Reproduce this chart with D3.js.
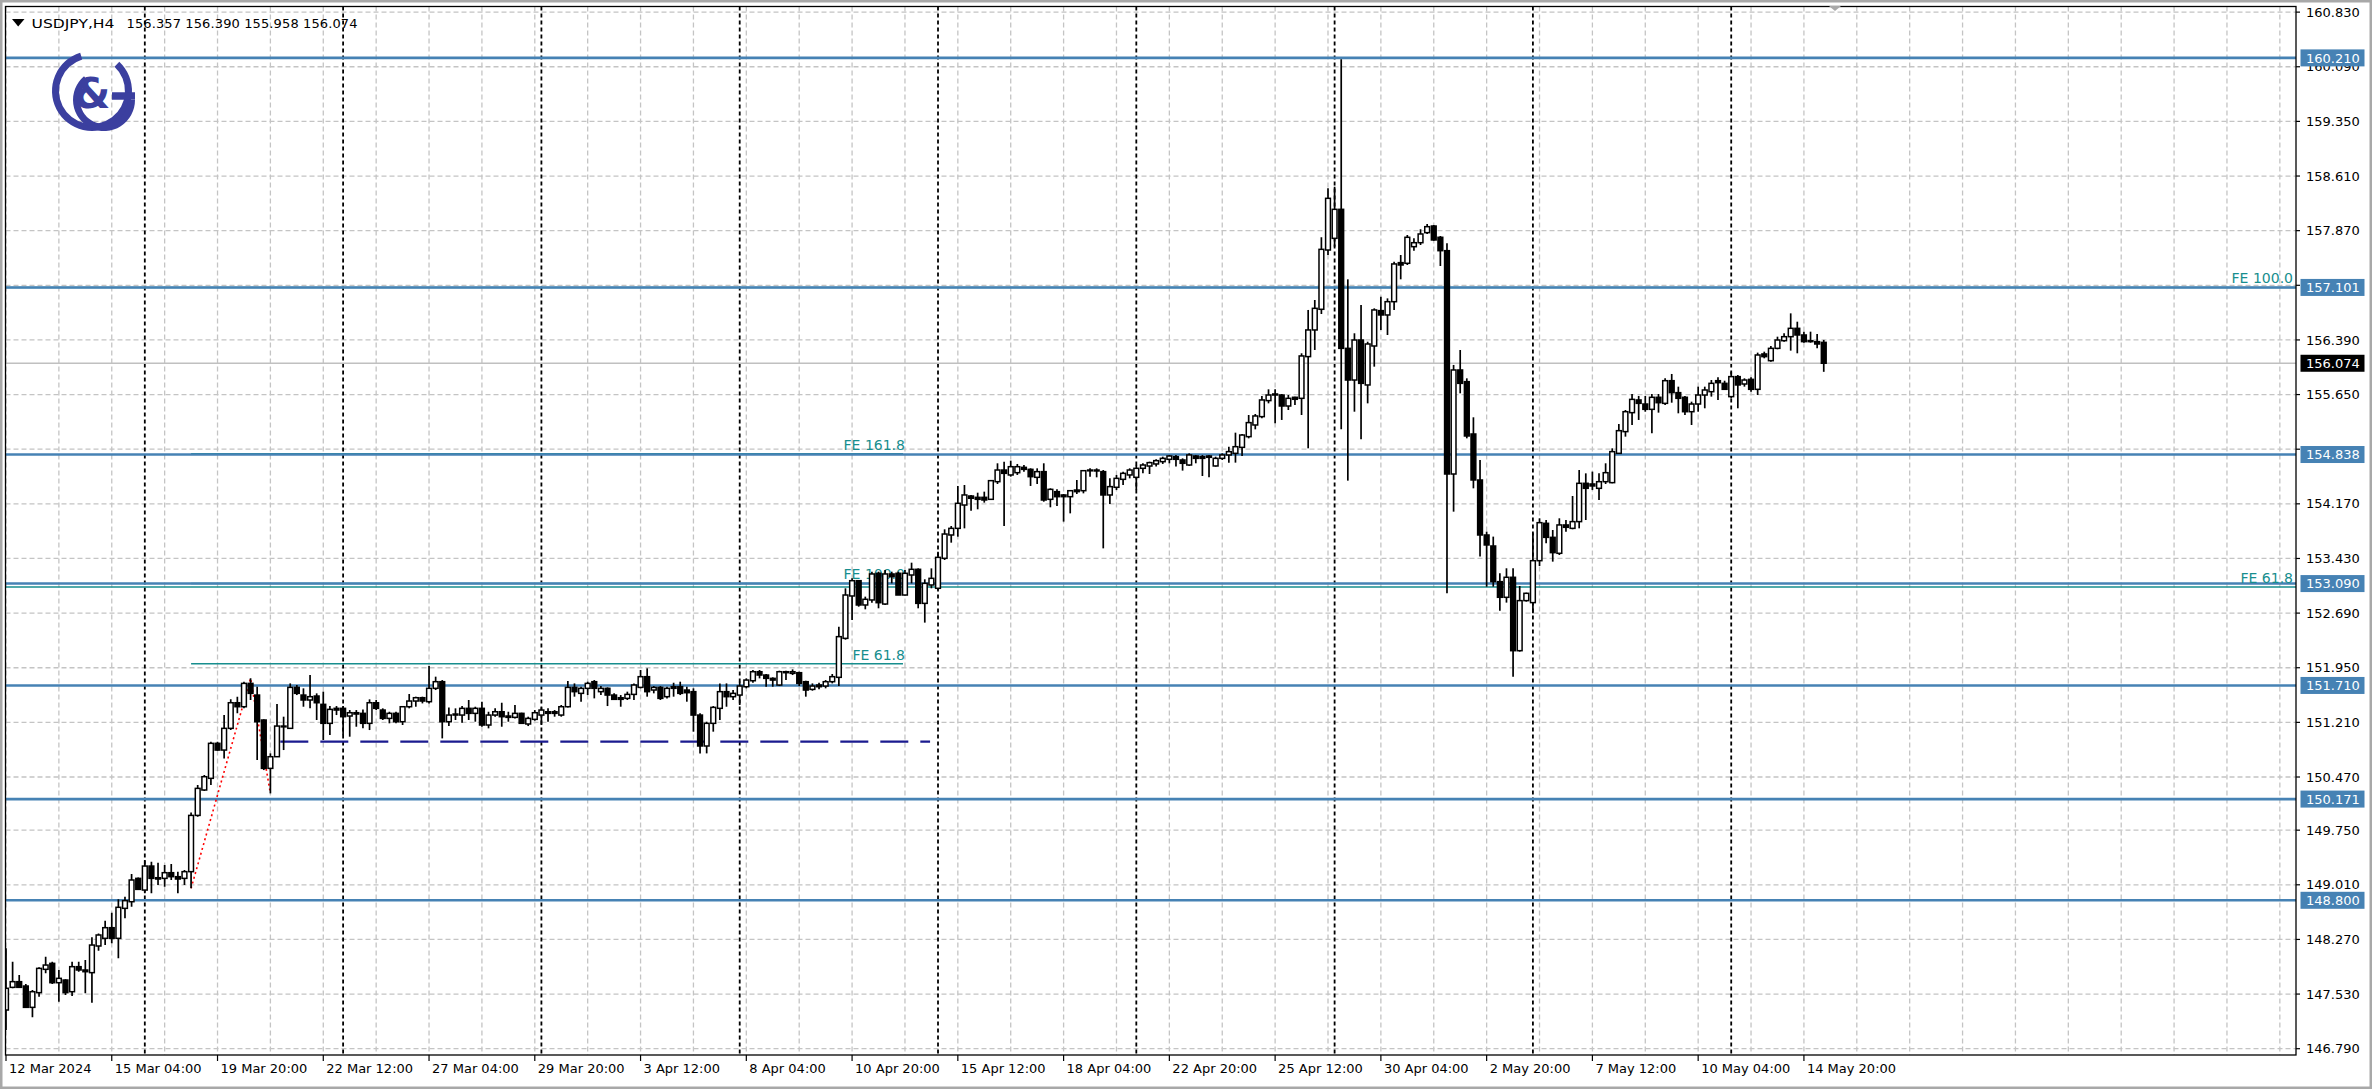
<!DOCTYPE html>
<html><head><meta charset="utf-8">
<script src="https://cdn.jsdelivr.net/npm/d3@7"></script>
<style>
html,body{margin:0;padding:0;background:#fff;}
svg{display:block;}
text{font-family:"DejaVu Sans",sans-serif;}
</style></head><body>
<svg id="c" width="2372" height="1089"></svg>
<script>
// ---------------- DATA (USDJPY H4) ----------------
const symbol = "USDJPY,H4";
const headerValues = ["156.357","156.390","155.958","156.074"];

const opens = [
147.314,147.621,147.698,147.639,147.350,147.549,147.865,147.946,147.684,147.720,
147.562,147.901,147.856,147.820,148.181,148.285,148.429,148.285,148.691,148.781,
149.097,148.939,149.264,149.106,149.097,149.174,149.120,149.097,149.188,149.950,
150.294,150.452,150.926,150.835,151.129,151.476,151.422,151.738,151.580,151.242,
150.587,150.745,151.151,151.129,151.684,151.580,151.513,151.567,151.454,151.197,
151.400,151.400,151.296,151.341,151.332,151.197,151.476,151.377,151.264,151.332,
151.219,151.422,151.499,151.544,151.490,151.671,151.761,151.219,151.309,151.309,
151.400,151.332,151.400,151.174,151.309,151.354,151.296,151.278,151.332,151.188,
151.251,151.309,151.354,151.354,151.309,151.422,151.684,151.603,151.671,151.761,
151.626,151.671,151.580,151.544,151.535,151.589,151.684,151.829,151.648,151.684,
151.558,151.693,151.693,151.648,151.626,151.309,150.890,151.197,151.400,151.626,
151.558,151.580,151.693,151.774,151.896,151.851,151.806,151.716,151.896,151.874,
151.883,151.761,151.657,151.716,151.702,151.761,151.820,152.348,152.922,153.129,
152.800,152.868,153.229,152.813,153.220,153.229,152.935,153.206,153.283,152.822,
153.071,153.026,153.432,153.748,153.838,154.154,154.276,154.258,154.258,154.231,
154.470,154.628,154.561,154.592,154.664,154.637,154.529,154.606,154.231,154.335,
154.290,154.267,154.357,154.348,154.628,154.628,154.606,154.290,154.394,154.502,
154.561,154.529,154.651,154.682,154.710,154.741,154.773,154.809,154.764,154.696,
154.818,154.809,154.818,154.683,154.786,154.832,154.854,154.935,155.080,155.238,
155.351,155.568,155.644,155.644,155.495,155.613,155.599,156.164,156.525,156.805,
157.608,157.766,158.159,156.276,155.847,156.389,155.780,156.308,156.787,156.728,
156.908,157.437,157.428,157.653,157.707,157.843,157.933,157.780,157.599,154.574,
155.983,155.825,155.116,154.493,153.748,153.599,153.116,152.904,153.175,152.181,
152.859,152.832,153.400,153.906,153.716,153.500,153.884,153.838,153.929,154.448,
154.439,154.380,154.470,154.457,154.854,155.148,155.405,155.577,155.522,155.450,
155.613,155.531,155.838,155.676,155.613,155.418,155.522,155.644,155.689,155.838,
155.802,155.622,155.893,155.793,155.856,155.721,156.200,156.109,156.276,156.380,
156.434,156.547,156.457,156.380,156.367,156.357];

const highs = [
148.149,147.969,147.788,147.666,147.585,147.892,148.036,147.969,147.856,147.729,
147.969,147.969,147.991,148.298,148.352,148.524,148.632,148.813,148.849,149.156,
149.110,149.346,149.323,149.310,149.278,149.291,149.188,149.210,149.990,150.361,
150.497,150.948,150.948,151.309,151.522,151.558,151.761,151.806,151.693,151.251,
150.790,151.458,151.287,151.738,151.716,151.671,151.851,151.603,151.626,151.431,
151.431,151.431,151.377,151.377,151.386,151.522,151.513,151.400,151.354,151.354,
151.431,151.594,151.558,151.558,151.973,151.829,151.783,151.413,151.400,151.431,
151.513,151.422,151.490,151.354,151.400,151.476,151.354,151.445,151.341,151.287,
151.377,151.413,151.400,151.377,151.445,151.770,151.738,151.693,151.761,151.783,
151.702,151.684,151.603,151.580,151.626,151.738,151.919,151.942,151.702,151.702,
151.693,151.747,151.761,151.693,151.671,151.332,151.219,151.431,151.738,151.738,
151.648,151.761,151.806,151.919,151.919,151.865,151.820,151.910,151.910,151.928,
151.896,151.774,151.738,151.747,151.783,151.865,152.506,153.026,153.161,153.138,
152.913,153.251,153.251,153.274,153.251,153.251,153.274,153.373,153.296,153.148,
153.296,153.522,153.825,153.870,154.412,154.425,154.290,154.321,154.335,154.493,
154.719,154.741,154.755,154.710,154.696,154.651,154.651,154.719,154.380,154.366,
154.303,154.357,154.493,154.628,154.651,154.651,154.628,154.515,154.561,154.606,
154.651,154.696,154.719,154.741,154.773,154.809,154.832,154.832,154.786,154.854,
154.832,154.832,154.832,154.809,154.854,154.944,155.134,155.116,155.373,155.387,
155.631,155.721,155.721,155.658,155.644,155.622,156.209,156.796,156.931,157.780,
158.443,158.466,160.191,157.211,156.480,156.863,156.366,156.818,156.976,156.953,
157.450,157.540,157.811,157.766,157.888,157.960,157.947,157.798,157.698,156.051,
156.254,155.870,155.342,154.764,153.793,153.726,153.229,153.297,153.297,153.057,
152.967,153.770,153.974,153.951,153.816,153.974,153.951,154.276,154.628,154.583,
154.606,154.583,154.719,154.922,155.251,155.441,155.658,155.631,155.631,155.658,
155.658,155.870,155.929,155.757,155.631,155.554,155.757,155.757,155.847,155.883,
155.838,155.960,155.915,155.870,155.883,156.218,156.231,156.308,156.434,156.479,
156.750,156.637,156.502,156.502,156.470,156.390];

const lows = [
147.043,147.610,147.615,147.345,147.215,147.495,147.811,147.666,147.427,147.517,
147.504,147.833,147.540,147.413,148.118,148.194,148.217,148.014,148.556,148.714,
148.939,148.894,148.894,149.007,148.984,149.075,148.894,149.007,148.962,149.930,
150.280,150.361,150.826,150.722,151.106,151.332,151.400,151.513,150.700,150.564,
150.248,150.740,150.835,151.120,151.580,151.422,151.400,151.242,150.971,151.039,
151.309,151.039,151.016,151.151,151.129,151.106,151.377,151.242,151.197,151.197,
151.174,151.400,151.422,151.467,151.467,151.648,150.993,151.160,151.242,151.206,
151.242,151.219,151.151,151.129,151.287,151.151,151.219,151.264,151.188,151.160,
151.233,151.174,151.219,151.287,151.287,151.413,151.558,151.490,151.580,151.535,
151.580,151.431,151.513,151.422,151.513,151.513,151.671,151.558,151.603,151.513,
151.535,151.558,151.580,151.490,151.084,150.790,150.790,151.084,151.242,151.422,
151.513,151.445,151.671,151.747,151.806,151.693,151.693,151.702,151.783,151.851,
151.702,151.558,151.639,151.657,151.671,151.738,151.702,152.330,152.597,152.777,
152.741,152.831,152.755,152.800,153.093,152.935,152.930,153.093,152.755,152.561,
153.026,153.003,153.409,153.644,153.725,153.838,154.078,154.096,154.186,154.222,
154.439,153.870,154.538,154.561,154.606,154.412,154.439,154.199,154.123,154.141,
153.929,154.041,154.303,154.312,154.538,154.529,153.567,154.168,154.357,154.425,
154.515,154.357,154.583,154.574,154.674,154.710,154.719,154.674,154.620,154.683,
154.719,154.547,154.529,154.674,154.764,154.728,154.728,154.818,155.057,155.179,
155.328,155.531,155.261,155.306,155.441,155.509,155.373,154.922,156.254,156.741,
157.540,157.653,155.179,154.484,155.418,155.044,155.531,156.028,156.525,156.457,
156.796,157.211,157.405,157.599,157.676,157.825,157.735,157.391,152.958,154.064,
155.667,155.057,154.380,153.455,153.048,153.048,152.723,152.832,151.829,152.168,
152.845,152.687,153.328,153.635,153.387,153.477,153.793,153.825,153.838,153.951,
154.358,154.222,154.439,154.448,154.850,155.080,155.238,155.306,155.418,155.125,
155.405,155.509,155.540,155.396,155.373,155.238,155.418,155.464,155.622,155.577,
155.712,155.599,155.464,155.757,155.689,155.644,156.141,156.096,156.263,156.367,
156.245,156.209,156.353,156.353,156.276,155.958];

const closes = [
147.608,147.698,147.621,147.350,147.562,147.878,147.923,147.684,147.743,147.549,
147.901,147.856,147.833,148.194,148.330,148.429,148.285,148.705,148.795,149.075,
148.948,149.264,149.097,149.088,149.174,149.120,149.088,149.188,149.950,150.316,
150.474,150.926,150.835,151.129,151.476,151.422,151.738,151.603,151.219,150.587,
150.745,151.160,151.160,151.684,151.603,151.513,151.558,151.476,151.197,151.386,
151.377,151.287,151.341,151.323,151.197,151.476,151.400,151.264,151.332,151.219,
151.422,151.499,151.544,151.499,151.671,151.761,151.219,151.309,151.323,151.400,
151.332,151.400,151.174,151.309,151.354,151.287,151.278,151.332,151.197,151.264,
151.341,151.377,151.332,151.332,151.422,151.684,151.626,151.671,151.738,151.671,
151.671,151.580,151.522,151.522,151.589,151.716,151.829,151.626,151.684,151.535,
151.671,151.671,151.603,151.612,151.309,150.890,151.197,151.413,151.626,151.558,
151.603,151.702,151.783,151.896,151.851,151.806,151.783,151.896,151.883,151.896,
151.738,151.648,151.702,151.693,151.761,151.829,152.371,152.935,153.129,152.800,
152.877,153.220,152.831,153.220,153.184,152.935,153.229,153.283,152.822,153.093,
153.161,153.445,153.761,153.838,154.177,154.290,154.245,154.231,154.222,154.484,
154.628,154.583,154.673,154.673,154.637,154.538,154.606,154.222,154.366,154.267,
154.267,154.348,154.335,154.619,154.619,154.615,154.290,154.403,154.515,154.583,
154.628,154.651,154.696,154.728,154.755,154.786,154.818,154.773,154.719,154.832,
154.786,154.786,154.800,154.786,154.832,154.877,154.944,155.102,155.270,155.360,
155.577,155.644,155.658,155.495,155.599,155.586,156.173,156.525,156.818,157.617,
158.308,158.159,156.276,155.847,156.389,155.802,156.335,156.796,156.728,156.908,
157.419,157.405,157.780,157.707,157.825,157.924,157.744,157.599,154.574,155.983,
155.802,155.089,154.493,153.748,153.613,153.116,152.904,153.175,152.181,152.859,
152.958,153.400,153.915,153.716,153.509,153.884,153.852,153.929,154.448,154.380,
154.412,154.470,154.592,154.877,155.161,155.418,155.585,155.531,155.450,155.613,
155.540,155.838,155.676,155.599,155.418,155.522,155.644,155.712,155.802,155.811,
155.721,155.893,155.780,155.847,155.721,156.186,156.164,156.276,156.389,156.434,
156.547,156.457,156.367,156.367,156.335,156.074];

// time axis: one label every 16 bars
const timeLabels = ["12 Mar 2024","15 Mar 04:00","19 Mar 20:00","22 Mar 12:00","27 Mar 04:00",
 "29 Mar 20:00","3 Apr 12:00","8 Apr 04:00","10 Apr 20:00","15 Apr 12:00","18 Apr 04:00",
 "22 Apr 20:00","25 Apr 12:00","30 Apr 04:00","2 May 20:00","7 May 12:00","10 May 04:00","14 May 20:00"];
const labelEvery = 16;
const gridEvery = 8;
// week separators (Monday 00:00 bars)
const weekBars = [21,51,81,111,141,171,201,231,261];

// price axis ticks
const priceTicks = [160.830,160.090,159.350,158.610,157.870,157.130,156.390,155.650,154.910,154.170,
 153.430,152.690,151.950,151.210,150.470,149.750,149.010,148.270,147.530,146.790];
// horizontal support / resistance lines
const levels = [160.210,157.101,154.838,153.090,151.710,150.171,148.800];
const bidPrice = 156.074;

// Fibonacci expansion #1 (A-B-C points: bar index, price)
const feA = {bar:28, price:148.962};
const feB = {bar:37, price:151.806};
const feC = {bar:40, price:150.248};
const feRatios = [0.618, 1.0, 1.618];
const feNames = ["FE 61.8","FE 100.0","FE 161.8"];
const feEndBar = 135.7;
// Fibonacci expansion #2 (anchored off-screen; levels extend right)
const fe2Prices = [153.045, 157.101];
const fe2Names = ["FE 61.8","FE 100.0"];
// dashed support line
const dashLine = {fromBar:41.5, toBar:139.8, price:150.95};

// ---------------- DRAWING ----------------
const svg = d3.select("#c");
const W = 2372, H = 1089;
const PL = 5.5, PT = 6.5, PR = 2296, PB = 1055;
const barStep = 6.61;
const lastGridBar = Math.floor((PR - 6) / barStep);
const x = d3.scaleLinear().domain([0, 100]).range([6, 6 + 100 * barStep]);
const y = d3.scaleLinear().domain([146.79, 160.21]).range([1048.7, 57.9]);

const BLUE = "#4682b4", TEAL = "#178e8e", GRID = "#c4c4c4";

svg.append("rect").attr("width", W).attr("height", H).attr("fill", "#fff");
svg.append("rect").attr("x", 1).attr("y", 1).attr("width", W - 2).attr("height", H - 2)
  .attr("fill", "none").attr("stroke", "#a8a8a8").attr("stroke-width", 3);

svg.append("defs").append("clipPath").attr("id", "pc").append("rect")
  .attr("x", PL).attr("y", PT).attr("width", PR - PL).attr("height", PB - PT);
const plot = svg.append("g").attr("clip-path", "url(#pc)");

// grid
plot.append("g").selectAll("line").data(priceTicks).join("line")
  .attr("x1", PL).attr("x2", PR).attr("y1", d => y(d)).attr("y2", d => y(d))
  .attr("stroke", GRID).attr("stroke-width", 1.3).attr("stroke-dasharray", "5,3");
const vBars = d3.range(0, lastGridBar + 1, gridEvery);
plot.append("g").selectAll("line").data(vBars).join("line")
  .attr("x1", d => x(d)).attr("x2", d => x(d)).attr("y1", PT).attr("y2", PB)
  .attr("stroke", GRID).attr("stroke-width", 1.3).attr("stroke-dasharray", "5,3");

// week separators
plot.append("g").selectAll("line").data(weekBars).join("line")
  .attr("x1", d => x(d)).attr("x2", d => x(d)).attr("y1", PT).attr("y2", PB)
  .attr("stroke", "#000").attr("stroke-width", 1.8).attr("stroke-dasharray", "4,3");

// bid line
plot.append("line").attr("x1", PL).attr("x2", PR).attr("y1", y(bidPrice)).attr("y2", y(bidPrice))
  .attr("stroke", "#c0c0c0").attr("stroke-width", 1.5);

// FE #2 lines (full width)
plot.append("g").selectAll("line").data(fe2Prices).join("line")
  .attr("x1", PL).attr("x2", PR).attr("y1", d => y(d)).attr("y2", d => y(d))
  .attr("stroke", TEAL).attr("stroke-width", 1.5);

// FE #1 lines
const feLevels = feRatios.map(r => feC.price + (feB.price - feA.price) * r);
plot.append("g").selectAll("line").data(feLevels).join("line")
  .attr("x1", x(feA.bar)).attr("x2", x(feEndBar)).attr("y1", d => y(d)).attr("y2", d => y(d))
  .attr("stroke", TEAL).attr("stroke-width", 1.5);

// horizontal blue levels
plot.append("g").selectAll("line").data(levels).join("line")
  .attr("x1", PL).attr("x2", PR).attr("y1", d => y(d)).attr("y2", d => y(d))
  .attr("stroke", BLUE).attr("stroke-width", 2.6);

// dashed navy support
plot.append("line").attr("x1", x(dashLine.fromBar)).attr("x2", x(dashLine.toBar))
  .attr("y1", y(dashLine.price)).attr("y2", y(dashLine.price))
  .attr("stroke", "#1b1b8f").attr("stroke-width", 2.2).attr("stroke-dasharray", "28,12");

// red dotted A-B-C
plot.append("path").attr("d", d3.line().x(d => x(d.bar)).y(d => y(d.price))([feA, feB, feC]))
  .attr("fill", "none").attr("stroke", "#ff0000").attr("stroke-width", 1.6).attr("stroke-dasharray", "2,3");

// FE labels
plot.append("g").selectAll("text").data(feLevels).join("text")
  .attr("x", x(feEndBar) + 2).attr("y", d => y(d) - 4).attr("text-anchor", "end")
  .attr("font-size", 14).attr("fill", TEAL).text((d, i) => feNames[i]);
plot.append("g").selectAll("text").data(fe2Prices).join("text")
  .attr("x", PR - 3).attr("y", d => y(d) - 4).attr("text-anchor", "end")
  .attr("font-size", 14).attr("fill", TEAL).text((d, i) => fe2Names[i]);

// candles
const idx = d3.range(closes.length);
const bw = 4.8;
const cg = plot.append("g").selectAll("g").data(idx).join("g");
cg.append("line").attr("x1", i => x(i)).attr("x2", i => x(i))
  .attr("y1", i => y(highs[i])).attr("y2", i => y(lows[i]))
  .attr("stroke", "#000").attr("stroke-width", 1.7);
cg.append("rect").attr("x", i => x(i) - bw / 2)
  .attr("y", i => y(Math.max(opens[i], closes[i])))
  .attr("width", bw)
  .attr("height", i => Math.max(0.8, Math.abs(y(opens[i]) - y(closes[i]))))
  .attr("fill", i => closes[i] >= opens[i] ? "#fff" : "#000")
  .attr("stroke", "#000").attr("stroke-width", 1.5);

// logo
const LOGO = "#3b3f9f";
const arc = d3.arc();
const logo = svg.append("g");
logo.append("path").attr("transform", "translate(92,91)")
  .attr("d", arc({innerRadius: 33, outerRadius: 40, startAngle: 0.75, endAngle: 2 * Math.PI - 0.3}))
  .attr("fill", LOGO);
logo.append("path").attr("transform", "translate(104,100)")
  .attr("d", arc({innerRadius: 24, outerRadius: 31, startAngle: Math.PI * 0.5, endAngle: Math.PI * 2.0 - 0.7}))
  .attr("fill", LOGO);
logo.append("line").attr("x1", 112).attr("x2", 135).attr("y1", 96).attr("y2", 96)
  .attr("stroke", LOGO).attr("stroke-width", 7.5);
logo.append("text").attr("x", 92).attr("y", 108).attr("text-anchor", "middle")
  .attr("font-size", 42).attr("font-weight", "bold").attr("fill", LOGO).text("&");

// chart frame
svg.append("rect").attr("x", PL).attr("y", PT).attr("width", PR - PL).attr("height", PB - PT)
  .attr("fill", "none").attr("stroke", "#000").attr("stroke-width", 1.3);

// price axis (labels hidden where a level box covers them)
const shownTicks = priceTicks.filter(t => levels.every(l => Math.abs(y(l) - y(t)) > 7));
const pa = svg.append("g");
pa.selectAll("line").data(priceTicks).join("line")
  .attr("x1", PR).attr("x2", PR + 4).attr("y1", d => y(d)).attr("y2", d => y(d))
  .attr("stroke", "#000").attr("stroke-width", 1.2);
pa.selectAll("text").data(shownTicks).join("text")
  .attr("x", PR + 10).attr("y", d => y(d) + 4.6).attr("font-size", 13).attr("fill", "#000")
  .text(d => d.toFixed(3));
const lb = svg.append("g").selectAll("g").data(levels).join("g");
lb.append("rect").attr("x", PR + 4.5).attr("y", d => y(d) - 8.5).attr("width", 64).attr("height", 17)
  .attr("fill", BLUE);
lb.append("text").attr("x", PR + 10).attr("y", d => y(d) + 4.6).attr("font-size", 13).attr("fill", "#fff")
  .text(d => d.toFixed(3));
svg.append("rect").attr("x", PR + 4.5).attr("y", y(bidPrice) - 8.5).attr("width", 64).attr("height", 17).attr("fill", "#000");
svg.append("text").attr("x", PR + 10).attr("y", y(bidPrice) + 4.6).attr("font-size", 13).attr("fill", "#fff")
  .text(bidPrice.toFixed(3));

// time axis
const tBars = timeLabels.map((t, k) => k * labelEvery);
const ta = svg.append("g");
ta.selectAll("line").data(tBars).join("line")
  .attr("x1", d => x(d)).attr("x2", d => x(d)).attr("y1", PB).attr("y2", PB + 6)
  .attr("stroke", "#000").attr("stroke-width", 1.2);
ta.selectAll("text").data(tBars).join("text")
  .attr("x", d => x(d) + 3).attr("y", PB + 18).attr("font-size", 13).attr("fill", "#000")
  .text((d, k) => timeLabels[k]);

// header
svg.append("path").attr("d", "M12,19 L24.5,19 L18.2,26.5 Z").attr("fill", "#000");
svg.append("text").attr("x", 31.5).attr("y", 28).attr("font-size", 13).attr("textLength", 83)
  .attr("lengthAdjust", "spacingAndGlyphs").text(symbol);
svg.append("text").attr("x", 126.5).attr("y", 28).attr("font-size", 13).attr("textLength", 231)
  .text(headerValues.join(" "));

// chart shift marker
svg.append("path").attr("d", "M1829,6 L1841,6 L1835,11 Z").attr("fill", "#a8a8a8");
</script>
</body></html>
